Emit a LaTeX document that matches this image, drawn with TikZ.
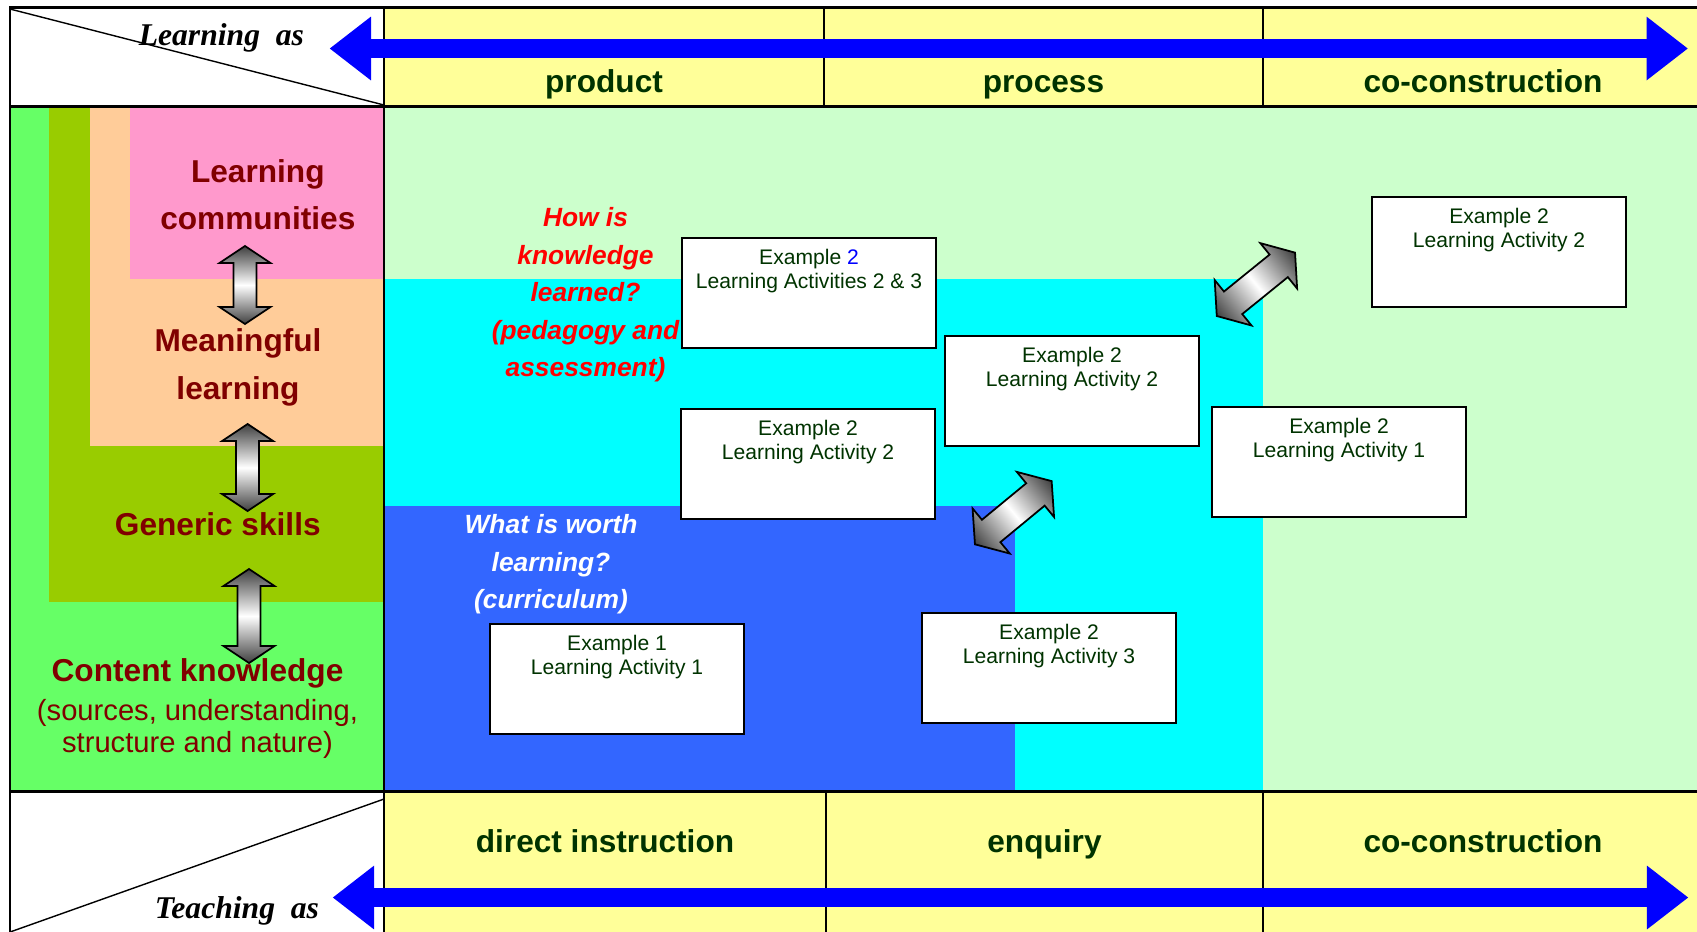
\documentclass[tikz,border=0pt]{standalone}
\usepackage{fontspec}
\setmainfont{Liberation Sans}
\newfontfamily\timesface{Liberation Serif}
\usetikzlibrary{arrows.meta,positioning}

\definecolor{headyellow}{HTML}{FFFF99}
\definecolor{paleground}{HTML}{CCFFCC}
\definecolor{cyanground}{HTML}{00FFFF}
\definecolor{blueground}{HTML}{3366FF}
\definecolor{contentgreen}{HTML}{66FF66}
\definecolor{skillolive}{HTML}{99CC00}
\definecolor{meaningpeach}{HTML}{FFCC99}
\definecolor{communitypink}{HTML}{FF99CC}
\definecolor{labelred}{HTML}{800000}
\definecolor{darkgreen}{HTML}{003300}
\definecolor{arrowblue}{HTML}{0000FF}

% x, y, angle, length, head length, head width, shaft width
\newcommand{\twoway}[7]{%
  \shade[twowayarrow, transform canvas={shift={(#1,#2)},rotate=#3}]
    ({-#4/2},0) -- ({-#4/2+#5},{#6/2}) -- ({-#4/2+#5},{#7/2}) -- ({#4/2-#5},{#7/2})
    -- ({#4/2-#5},{#6/2}) -- ({#4/2},0) -- ({#4/2-#5},{-#6/2}) -- ({#4/2-#5},{-#7/2})
    -- ({-#4/2+#5},{-#7/2}) -- ({-#4/2+#5},{-#6/2}) -- cycle;}

\begin{document}
\begin{tikzpicture}[x=1cm,y=-1cm,
    headtext/.style={font=\fontsize{9}{11}\selectfont\bfseries, text=darkgreen, anchor=base, inner sep=0pt},
    axistext/.style={font=\timesface\fontsize{9}{11}\selectfont\bfseries\itshape, anchor=base, inner sep=0pt},
    layer/.style={font=\fontsize{9}{13.5}\selectfont\bfseries, text=labelred, align=center, inner sep=0pt},
    layersub/.style={font=\fontsize{8.3}{9.2}\selectfont, text=labelred, align=center, inner sep=0pt},
    question/.style={font=\fontsize{7.5}{10.65}\selectfont\bfseries\itshape, align=center, inner sep=0pt},
    activity/.style={draw, line width=0.6pt, fill=white, minimum width=2.54cm, minimum height=1.1cm, anchor=north west, inner sep=0pt},
    acttext/.style={font=\fontsize{6}{6.63}\selectfont, text=darkgreen, align=center, inner sep=0pt},
    spanarrow/.style={draw=arrowblue, line width=1.93mm, {Triangle[length=4.15mm,width=6.1mm]}-{Triangle[length=4.15mm,width=6.1mm]}},
    twowayarrow/.style={draw=black, line width=0.5pt, top color=black!75, bottom color=black!75, middle color=white, shading angle=90},
    frame/.style={line width=0.85pt},
    divider/.style={line width=0.6pt},
    diagonal/.style={line width=0.4pt}]
    \useasboundingbox (0,0) rectangle (16.97,9.31);
    \clip (0,0) rectangle (16.97,9.31);

    % rows and layers
    \fill[white] (0,0) rectangle (16.97,9.31);
    \fill[headyellow] (3.84,0.07) rectangle (17.1,1.06);
    \fill[headyellow] (3.84,7.91) rectangle (17.1,9.4);
    \fill[paleground] (3.84,1.06) rectangle (17.1,7.91);
    \fill[cyanground] (3.84,2.79) rectangle (12.63,7.91);
    \fill[blueground] (3.84,5.06) rectangle (10.15,7.91);
    \fill[contentgreen] (0.10,1.06) rectangle (3.84,7.91);
    \fill[skillolive] (0.49,1.06) rectangle (3.84,6.02);
    \fill[meaningpeach] (0.896,1.06) rectangle (3.84,4.457);
    \fill[communitypink] (1.30,1.06) rectangle (3.84,2.79);

    \node[question, text=red] (howlearned) at (5.855,2.95)
        {How is\\knowledge\\learned?\\(pedagogy and\\assessment)};
    \node[question, text=white] (worthlearning) at (5.51,5.645)
        {What is worth\\learning?\\(curriculum)};

    % activities
    \node[activity] (ex2both) at (6.81,2.37) {};
    \node[acttext, below=0.118cm of ex2both.north] (ex2bothtxt)
        {Example \textcolor{arrowblue}{2}\\Learning Activities 2 \& 3};
    \node[activity] (ex2twoa) at (6.80,4.08) {};
    \node[acttext, below=0.118cm of ex2twoa.north] (ex2twoatxt)
        {Example 2\\Learning Activity 2};
    \node[activity] (ex2twob) at (9.44,3.35) {};
    \node[acttext, below=0.118cm of ex2twob.north] (ex2twobtxt)
        {Example 2\\Learning Activity 2};
    \node[activity] (ex2one) at (12.11,4.06) {};
    \node[acttext, below=0.118cm of ex2one.north] (ex2onetxt)
        {Example 2\\Learning Activity 1};
    \node[activity] (ex2three) at (9.21,6.12) {};
    \node[acttext, below=0.118cm of ex2three.north] (ex2threetxt)
        {Example 2\\Learning Activity 3};
    \node[activity] (ex1one) at (4.89,6.23) {};
    \node[acttext, below=0.118cm of ex1one.north] (ex1onetxt)
        {Example 1\\Learning Activity 1};
    \node[activity] (ex2twoc) at (13.71,1.96) {};
    \node[acttext, below=0.118cm of ex2twoc.north] (ex2twoctxt)
        {Example 2\\Learning Activity 2};

    % layers of learning
    \node[layer] (communities) at (2.578,1.945) {Learning\\communities};
    \node[layer] (meaningful) at (2.38,3.675) {Meaningful\\learning};
    \node[layer, anchor=base] (generic) at (2.178,5.35) {Generic skills};
    \node[layer, anchor=base] (content) at (1.975,6.81) {Content knowledge};
    \node[layersub] (contentsub) at (1.975,7.29) {(sources, understanding,\\structure and nature)};

    \twoway{2.45}{2.85}{90}{0.78}{0.17}{0.51}{0.23}
    \twoway{2.476}{4.675}{90}{0.87}{0.17}{0.51}{0.23}
    \twoway{2.49}{6.16}{90}{0.94}{0.17}{0.51}{0.23}
    \twoway{12.559}{2.843}{39}{1.007}{0.21}{0.585}{0.29}
    \twoway{10.133}{5.127}{39.5}{0.994}{0.21}{0.585}{0.29}

    % table lines
    \draw[frame] (0.10,0.07) rectangle (17.1,9.4);
    \draw[frame] (0.10,1.06) -- (17.1,1.06);
    \draw[frame] (0.10,7.91) -- (17.1,7.91);
    \draw[frame] (3.84,0.07) -- (3.84,9.4);
    \draw[divider] (8.24,0.07) -- (8.24,1.06) (12.63,0.07) -- (12.63,1.06);
    \draw[divider] (8.26,7.91) -- (8.26,9.4) (12.63,7.91) -- (12.63,9.4);
    \draw[diagonal] (0.10,0.09) -- (3.84,1.05);
    \draw[diagonal] (3.84,7.99) -- (0.10,9.32);

    \node[axistext] (learningas) at (2.214,0.45) {Learning~~as};
    \node[axistext] (teachingas) at (2.37,9.18) {Teaching~~as};
    \node[headtext] (product) at (6.04,0.925) {product};
    \node[headtext] (process) at (10.435,0.925) {process};
    \node[headtext] (coconlearn) at (14.83,0.925) {co-construction};
    \node[headtext] (direct) at (6.05,8.52) {direct instruction};
    \node[headtext] (enquiry) at (10.445,8.52) {enquiry};
    \node[headtext] (coconteach) at (14.83,8.52) {co-construction};

    \coordinate (learnL) at (3.295,0.485);
    \coordinate (learnR) at (16.88,0.485);
    \coordinate (teachL) at (3.326,8.975);
    \coordinate (teachR) at (16.884,8.975);
    \draw[spanarrow] (learnL) -- (learnR);
    \draw[spanarrow] (teachL) -- (teachR);
\end{tikzpicture}
\end{document}
